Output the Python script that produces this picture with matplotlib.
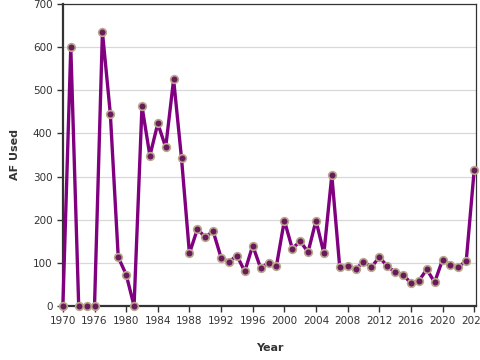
import numpy as np
import matplotlib
matplotlib.use('Agg')
import matplotlib.pyplot as plt

years = np.arange(1972, 2025)
af_used = [
    0, 600, 0, 0, 0, 635, 445, 113, 73, 0,
    463, 348, 423, 368, 525, 342, 122, 178, 160, 173,
    112, 102, 117, 80, 140, 88, 100, 93, 198, 133,
    150, 125, 198, 122, 303, 90, 92, 85, 103, 90,
    113, 93, 78, 73, 53, 58, 85, 55, 107, 95,
    90, 105, 315,
]
tick_years = np.arange(1972, 2025, 4)
tick_labels = ['1970'] + [str(y) for y in tick_years[1:]]
y_ticks = np.arange(0, 701, 100)


def main():
    fig = plt.figure(figsize=(4.8, 3.6), dpi=100)
    ax = fig.add_axes([0.131, 0.15, 0.861, 0.839])

    ax.plot(years, af_used, color='#800080', linewidth=2.4, zorder=3,
            marker='o', markersize=5.5, markerfacecolor='#6a1a5c',
            markeredgecolor='#b8a88c', markeredgewidth=1.2, clip_on=False)

    ax.set_xlim(1972, 2024.25)
    ax.set_ylim(0, 700)
    ax.set_xticks(tick_years)
    ax.set_xticklabels(tick_labels)
    ax.set_yticks(y_ticks)
    ax.grid(axis='y', color='#d8d8d8', linewidth=0.9)
    ax.set_axisbelow(True)

    for side in ['left', 'bottom']:
        ax.spines[side].set_linewidth(1.6)
        ax.spines[side].set_color('#333333')
    for side in ['top', 'right']:
        ax.spines[side].set_linewidth(0.9)
        ax.spines[side].set_color('#333333')

    ax.tick_params(axis='both', labelsize=7.5, colors='#333333', length=4, width=1)
    ax.set_xlabel('Year', fontsize=8, fontweight='bold', color='#333333', labelpad=12)
    ax.set_ylabel('AF Used', fontsize=8, fontweight='bold', color='#333333', labelpad=9)

    fig.savefig('out.png', dpi=100)


if __name__ == '__main__':
    main()
